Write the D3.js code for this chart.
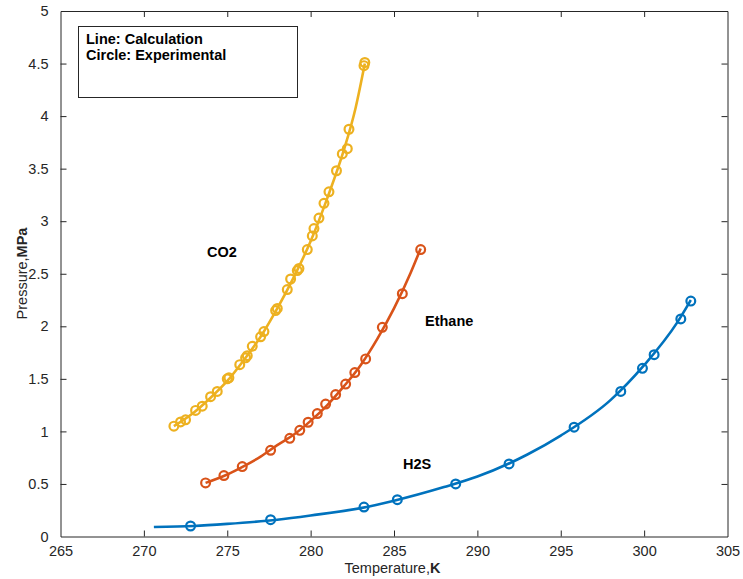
<!DOCTYPE html>
<html>
<head>
<meta charset="utf-8">
<script src="https://cdn.jsdelivr.net/npm/d3@7"></script>
<style>
  body { margin: 0; background: #fff; }
  text { font-family: "Liberation Sans", Arial, sans-serif; }
</style>
</head>
<body>
<div id="chart"></div>
<script>
const width = 743, height = 579;

// experimental points [T (K), P (MPa)]
const co2Exp = [
  [271.8, 1.05], [272.2, 1.09], [272.5, 1.11], [273.1, 1.20], [273.5, 1.24],
  [274.0, 1.33], [274.4, 1.38], [275.1, 1.51], [275.0, 1.50], [275.75, 1.635],
  [276.1, 1.70], [276.2, 1.72], [276.5, 1.81], [277.0, 1.90], [277.2, 1.95],
  [277.9, 2.15], [278.0, 2.17], [278.6, 2.35], [278.8, 2.45], [279.2, 2.53],
  [279.3, 2.55], [279.8, 2.73], [280.1, 2.86], [280.2, 2.93], [280.5, 3.03],
  [280.8, 3.17], [281.1, 3.28], [281.55, 3.48], [281.9, 3.64], [282.2, 3.69],
  [282.3, 3.875], [283.2, 4.48], [283.25, 4.51]
];
const ethaneExp = [
  [273.7, 0.51], [274.8, 0.58], [275.9, 0.665], [277.6, 0.82], [278.75, 0.934],
  [279.35, 1.01], [279.85, 1.087], [280.4, 1.17], [280.9, 1.26], [281.5, 1.35],
  [282.1, 1.45], [282.65, 1.56], [283.3, 1.69], [284.3, 1.99], [285.5, 2.31],
  [286.6, 2.73]
];
const h2sExp = [
  [272.8, 0.10], [277.6, 0.16], [283.2, 0.28], [285.2, 0.35], [288.7, 0.50],
  [291.9, 0.69], [295.8, 1.04], [298.6, 1.38], [299.9, 1.60], [300.6, 1.73],
  [302.2, 2.07], [302.8, 2.24]
];

// calculated curves
const co2Calc = [
  [271.8, 1.05], [273, 1.18], [274, 1.32], [275, 1.48], [276, 1.68], [277, 1.90],
  [278, 2.17], [279, 2.47], [280, 2.81], [281, 3.22], [282, 3.68], [282.7, 4.08],
  [283.25, 4.50]
];
const ethaneCalc = [
  [273.7, 0.51], [275, 0.59], [276, 0.67], [277, 0.76], [278, 0.87], [279, 0.97],
  [280, 1.10], [281, 1.25], [282, 1.43], [283, 1.63], [284, 1.88], [285, 2.17],
  [286, 2.51], [286.6, 2.74]
];
const h2sCalc = [
  [270.6, 0.09], [273, 0.10], [275, 0.12], [278, 0.16], [280, 0.20], [283, 0.27],
  [285, 0.34], [288, 0.47], [290, 0.57], [293, 0.78], [295, 0.96], [298, 1.30],
  [300, 1.63], [302, 2.04], [302.8, 2.25]
];

const series = [
  { name: "CO2", exp: co2Exp, calc: co2Calc, color: "#EDB120", label: [207, 256.5] },
  { name: "Ethane", exp: ethaneExp, calc: ethaneCalc, color: "#D95319", label: [425, 326] },
  { name: "H2S", exp: h2sExp, calc: h2sCalc, color: "#0072BD", label: [403, 469] }
];

const xTicks = [265, 270, 275, 280, 285, 290, 295, 300, 305];
const yTicks = [0, 0.5, 1, 1.5, 2, 2.5, 3, 3.5, 4, 4.5, 5];

const box = { left: 60.5, right: 727.5, top: 11, bottom: 536.5 };

const x = d3.scaleLinear().domain([265, 305]).range([box.left, box.right]);
const y = d3.scaleLinear().domain([0, 5]).range([box.bottom, box.top]);

const svg = d3.select("#chart").append("svg")
  .attr("width", width).attr("height", height);

const axisColor = "#262626";
const fs = 14.5;

// lines & markers
const line = d3.line().x(d => x(d[0])).y(d => y(d[1])).curve(d3.curveMonotoneX);

series.forEach(s => {
  svg.append("path")
    .datum(s.calc)
    .attr("d", line)
    .attr("fill", "none")
    .attr("stroke", s.color)
    .attr("stroke-width", 2.6);

  svg.append("g").selectAll("circle")
    .data(s.exp)
    .join("circle")
    .attr("cx", d => x(d[0]))
    .attr("cy", d => y(d[1]))
    .attr("r", 4.4)
    .attr("fill", "none")
    .attr("stroke", s.color)
    .attr("stroke-width", 2.2);

  svg.append("text")
    .attr("x", s.label[0]).attr("y", s.label[1])
    .attr("font-size", fs).attr("font-weight", "bold")
    .attr("fill", "#000")
    .text(s.name);
});

// box axes with inward ticks
const fmt = d => String(d);
const gx = svg.append("g").attr("transform", `translate(0,${box.bottom})`)
  .call(d3.axisBottom(x).tickValues(xTicks).tickFormat(fmt).tickSizeInner(-6).tickSizeOuter(0).tickPadding(9));
const gxTop = svg.append("g").attr("transform", `translate(0,${box.top})`)
  .call(d3.axisTop(x).tickValues(xTicks).tickSizeInner(-6).tickSizeOuter(0).tickFormat(""));
const gy = svg.append("g").attr("transform", `translate(${box.left},0)`)
  .call(d3.axisLeft(y).tickValues(yTicks).tickFormat(fmt).tickSizeInner(-6).tickSizeOuter(0).tickPadding(12));
const gyRight = svg.append("g").attr("transform", `translate(${box.right},0)`)
  .call(d3.axisRight(y).tickValues(yTicks).tickSizeInner(-6).tickSizeOuter(0).tickFormat(""));

[gx, gxTop, gy, gyRight].forEach(g => {
  g.selectAll(".domain").attr("stroke", axisColor);
  g.selectAll(".tick line").attr("stroke", axisColor);
  g.selectAll("text")
    .attr("fill", axisColor)
    .attr("font-size", fs)
    .attr("font-family", "'Liberation Sans', Arial, sans-serif");
});
// drop end ticks that coincide with the box
[gx, gxTop].forEach(g => g.selectAll(".tick line").filter(d => d === 265 || d === 305).remove());
[gy, gyRight].forEach(g => g.selectAll(".tick line").filter(d => d === 0 || d === 5).remove());

// axis labels
const xl = svg.append("text")
  .attr("x", 392.5).attr("y", 573)
  .attr("text-anchor", "middle")
  .attr("font-size", fs).attr("fill", axisColor);
xl.append("tspan").text("Temperature,");
xl.append("tspan").attr("font-weight", "bold").text("K");

const yl = svg.append("text")
  .attr("transform", "translate(26.5,273.5) rotate(-90)")
  .attr("text-anchor", "middle")
  .attr("font-size", fs).attr("fill", axisColor);
yl.append("tspan").text("Pressure,");
yl.append("tspan").attr("font-weight", "bold").text("MPa");

// legend note
svg.append("rect")
  .attr("x", 78.5).attr("y", 26.5)
  .attr("width", 219).attr("height", 71)
  .attr("fill", "#fff").attr("stroke", axisColor).attr("stroke-width", 1);
svg.append("text").attr("x", 86).attr("y", 43.5)
  .attr("font-size", fs).attr("font-weight", "bold").attr("fill", "#000")
  .text("Line: Calculation");
svg.append("text").attr("x", 86).attr("y", 60)
  .attr("font-size", fs).attr("font-weight", "bold").attr("fill", "#000")
  .text("Circle: Experimental");
</script>
</body>
</html>
